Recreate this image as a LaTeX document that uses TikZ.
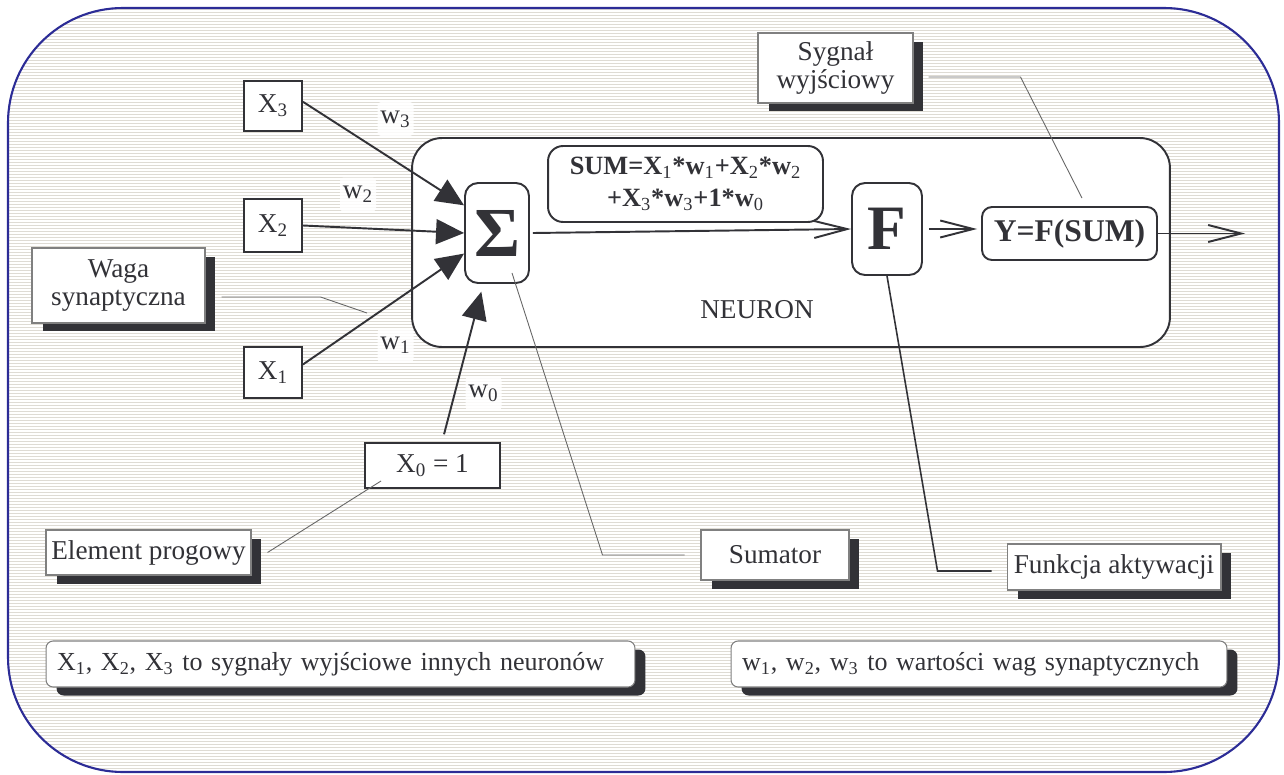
\documentclass[tikz,border=0pt]{standalone}
\usepackage{fontspec}
\setmainfont{Liberation Serif}
\usetikzlibrary{arrows.meta,shadows}

\definecolor{frameblue}{RGB}{44,44,150}
\definecolor{ink}{RGB}{50,50,55}
\definecolor{stripegray}{RGB}{222,219,212}
\newcommand\idx[1]{\textsubscript{\normalfont#1}}

\begin{document}
\begin{tikzpicture}[x=0.02cm, y=-0.02cm,
        every node/.style={font=\fontsize{15.5}{16}\selectfont, text=ink},
        inbox/.style={draw=ink, line width=1.1pt, fill=white, inner sep=0pt},
        tagbox/.style={draw=gray, line width=0.6pt, fill=white, inner sep=0pt, align=center,
            drop shadow={shadow xshift=0.21cm, shadow yshift=-0.17cm, fill=ink, opacity=1}},
        notebox/.style={tagbox, rounded corners=4pt, align=left, inner xsep=0.22cm,
            font=\fontsize{14.8}{16}\selectfont},
        unit/.style={draw=ink, line width=1.1pt, fill=white, rounded corners=0.26cm, inner sep=0pt},
        wlabel/.style={fill=white, fill opacity=0.85, text opacity=1, rounded corners=2pt,
            inner sep=0pt, minimum width=0.72cm, minimum height=0.68cm},
        weight/.style={draw=ink, line width=1.1pt, -{Triangle[length=0.56cm, width=0.5cm]}},
        signal/.style={draw=ink, line width=1.1pt, -{Straight Barb[length=0.66cm, width=0.34cm]}},
        leader/.style={draw=gray!80!black, line width=0.5pt}]
    \useasboundingbox (0,0) rectangle (1284,774);

    % striped card behind everything
    \fill[white, rounded corners=2.3cm] (8,8) rectangle (1279,772);
    \begin{scope}
        \clip[rounded corners=2.3cm] (8,8) rectangle (1279,772);
        \foreach \yy in {9,12,...,771}
            \draw[stripegray, line width=0.45pt] (8,\yy) -- (1279,\yy);
    \end{scope}
    \draw[frameblue, line width=1.2pt, rounded corners=2.3cm] (8,8) rectangle (1279,772);

    % the neuron itself
    \node[unit, rounded corners=0.6cm, minimum width=15.16cm, minimum height=4.18cm] (neuron) at (791,242.5) {};
    \node (neuronlabel) at (757,310) {NEURON};
    \node[unit, minimum width=1.28cm, minimum height=2cm, font=\fontsize{40}{42}\selectfont\bfseries] (sigma) at (497,233) {Σ};
    \node[unit, rounded corners=0.3cm, minimum width=5.5cm, minimum height=1.52cm, align=center,
        font=\fontsize{15}{18}\selectfont\bfseries] (sumeq) at (685.5,184)
        {SUM=X\idx{1}*w\idx{1}+X\idx{2}*w\idx{2}\\+X\idx{3}*w\idx{3}+1*w\idx{0}};
    \node[unit, minimum width=1.4cm, minimum height=1.84cm, font=\fontsize{36}{40}\selectfont\bfseries] (act) at (887,229) {F};
    \node[unit, rounded corners=0.2cm, minimum width=3.5cm, minimum height=1.06cm,
        font=\fontsize{18}{20}\selectfont\bfseries] (yout) at (1069.5,233.5) {Y=F(SUM)};
    \coordinate (out) at (1245,236);

    % inputs
    \node[inbox, minimum width=1.16cm, minimum height=1cm] (x3) at (273,106) {X\idx{3}};
    \node[inbox, minimum width=1.16cm, minimum height=1.06cm] (x2) at (273,225.5) {X\idx{2}};
    \node[inbox, minimum width=1.16cm, minimum height=1.02cm] (x1) at (273,372.5) {X\idx{1}};
    \node[inbox, minimum width=2.7cm, minimum height=0.9cm] (x0) at (432.5,465.5) {X\idx{0} = 1};

    % weights
    \node[wlabel] (w3) at (395.5,119) {w\idx{3}};
    \node[wlabel] (w2) at (358,194.5) {w\idx{2}};
    \node[wlabel] (w1) at (395.5,345.5) {w\idx{1}};
    \node[wlabel] (w0) at (483.5,393.5) {w\idx{0}};

    \draw[weight] (x3.8) -- (sigma.140);
    \draw[weight] (x2.east) -- (sigma.west);
    \draw[weight] (x1.15) -- (sigma.212);
    \draw[weight, shorten <=0.16cm, shorten >=0.16cm] ([xshift=0.19cm]x0.north) -- (sigma.255);

    \draw[signal] ([xshift=0.06cm]sigma.east) -- (act.west);
    \draw[signal] ([xshift=0.12cm]act.east) -- ([xshift=-0.08cm]act.east -| yout.west);
    \draw[signal] (yout.east) -- (out |- yout.east);

    % captions
    \node[tagbox, minimum width=3.46cm, minimum height=1.5cm] (waga) at (118.5,285.5) {Waga\\synaptyczna};
    \node[tagbox, minimum width=3.1cm, minimum height=1.4cm] (syg) at (835.5,68) {Sygnał\\wyjściowy};
    \node[tagbox, minimum width=4.1cm, minimum height=0.9cm] (elem) at (148.5,552.5) {Element progowy};
    \node[tagbox, minimum width=2.96cm, minimum height=1cm] (sumator) at (775,555) {Sumator};
    \node[tagbox, minimum width=4.28cm, minimum height=0.92cm] (funk) at (1114,567) {Funkcja aktywacji};
    \coordinate (wagapt) at (367,313);

    \draw[leader] ([xshift=0.32cm, yshift=-0.23cm]waga.east) -- ++(99,0) -- (wagapt);
    \draw[leader] ([xshift=0.3cm, yshift=-0.18cm]syg.east) -- ++(92,0) -- ([xshift=0.25cm, yshift=0.16cm]yout.north);
    \draw[leader] ([xshift=0.3cm, yshift=0.22cm]sigma.south) -- ([xshift=-1.96cm]sumator.west) -- ([xshift=-0.32cm]sumator.west);
    \draw[leader] ([xshift=0.32cm]elem.east) -- ([xshift=0.34cm, yshift=0.16cm]x0.south west);
    \draw[ink, line width=0.9pt] (act.south) -- ([xshift=-1.38cm, yshift=-0.08cm]funk.west) -- ([xshift=-0.3cm, yshift=-0.08cm]funk.west);

    % notes at the bottom
    \node[notebox, text width=11.34cm, minimum height=0.92cm] (note1) at (340.5,664)
        {X\idx{1}, X\idx{2}, X\idx{3} to sygnały wyjściowe innych neuronów};
    \node[notebox, text width=9.48cm, minimum height=0.92cm] (note2) at (979,664)
        {w\idx{1}, w\idx{2}, w\idx{3} to wartości wag synaptycznych};
\end{tikzpicture}
\end{document}
